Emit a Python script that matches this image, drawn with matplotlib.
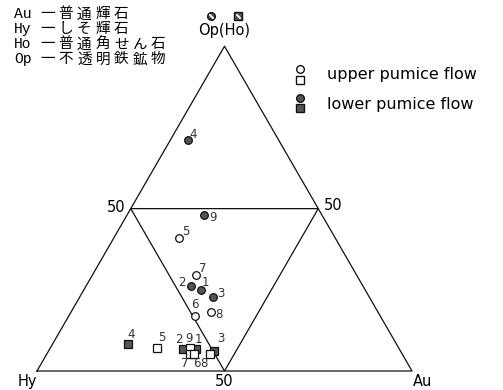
import numpy as np
import matplotlib
matplotlib.use("Agg")
import matplotlib.pyplot as plt

# mineral names (abbreviation, Japanese name)
minerals = ["Au", "Hy", "Ho", "Op"]
mineral_names = ["一普通輝石", "一しそ輝石", "一普通角せん石", "一不透明鉄鉱物"]

# ternary compositions in percent: Op(Ho) and Au (Hy = 100 - Op - Au)
lower_circle_ids = ["4", "9", "2", "1", "3"]
lower_circle_op = [71.1, 48.0, 26.3, 24.9, 22.8]
lower_circle_au = [4.6, 20.6, 27.9, 31.2, 35.6]

upper_circle_ids = ["5", "7", "6", "8"]
upper_circle_op = [41.0, 29.6, 16.8, 18.3]
upper_circle_au = [17.4, 27.6, 33.6, 37.3]

lower_square_ids = ["4", "2", "1", "3"]
lower_square_op = [8.2, 6.7, 6.7, 6.2]
lower_square_au = [20.2, 35.7, 39.0, 44.1]

upper_square_ids = ["5", "9", "7", "6", "8"]
upper_square_op = [7.2, 7.0, 5.2, 5.2, 5.2]
upper_square_au = [28.3, 37.3, 38.2, 39.3, 43.5]

# label offsets (pixels)
lower_circle_off = [(6, 6), (9, -2), (-9, 3), (5, 8), (8, 3)]
upper_circle_off = [(7, 6), (7, 6), (0, 12), (8, -3)]
lower_square_off = [(3, 10), (-5, 10), (3, 10), (7, 12)]
upper_square_off = [(5, 10), (-1, 10), (-5, -9), (3, -9), (-6, -9)]

H = np.sqrt(3) / 2


def to_xy(op, au):
    op = np.asarray(op) / 100.0
    au = np.asarray(au) / 100.0
    return au + op / 2, op * H


fig = plt.figure(figsize=(5.03, 3.90), dpi=100)
ax = fig.add_axes([0, 0, 1, 1])
ax.set_xlim(-37 / 375, 466 / 375)
ax.set_ylim(-19 / 375, 371 / 375)
ax.axis("off")

lc = "#111111"
lw = 0.9
# outer triangle
ax.plot([0, 1, 0.5, 0], [0, 0, H, 0], color=lc, lw=lw)
# inner (50%) triangle
ax.plot([0.25, 0.75, 0.5, 0.25], [H / 2, H / 2, 0, H / 2], color=lc, lw=lw)

# vertex and 50 labels
fs = 10.5
ax.text(0.5, H + 0.042, "Op(Ho)", ha="center", va="center", fontsize=fs)
ax.text(-0.025, -0.027, "Hy", ha="center", va="center", fontsize=fs)
ax.text(1.028, -0.027, "Au", ha="center", va="center", fontsize=fs)
ax.text(0.5, -0.027, "50", ha="center", va="center", fontsize=fs)
ax.text(0.235, H / 2 + 0.003, "50", ha="right", va="center", fontsize=fs)
ax.text(0.765, H / 2 + 0.008, "50", ha="left", va="center", fontsize=fs)

fill = "#555555"
ms = 5.5


def draw(op, au, ids, offs, marker, face):
    x, y = to_xy(op, au)
    ax.plot(x, y, linestyle="none", marker=marker, markersize=ms,
            markerfacecolor=face, markeredgecolor="#111111", markeredgewidth=0.9)
    for xi, yi, t, o in zip(x, y, ids, offs):
        ax.annotate(t, (xi, yi), xytext=o, textcoords="offset pixels",
                    ha="center", va="center", fontsize=8.5, color="#333333")


draw(lower_circle_op, lower_circle_au, lower_circle_ids, lower_circle_off, "o", fill)
draw(upper_circle_op, upper_circle_au, upper_circle_ids, upper_circle_off, "o", "white")
draw(lower_square_op, lower_square_au, lower_square_ids, lower_square_off, "s", fill)
draw(upper_square_op, upper_square_au, upper_square_ids, upper_square_off, "s", "white")

# symbols above the Op(Ho) vertex
top_y = H + 0.08
ax.plot([0.465], [top_y], marker="o", markersize=ms, color=fill, mec="#111111")
ax.plot([0.535], [top_y], marker="s", markersize=ms, color=fill, mec="#111111")
ax.plot([0.465, 0.535], [top_y, top_y], ls="none", marker=(2, 2, 45),
        markersize=4, mec="white", mew=0.9)

# mineral key (top left), kanji spaced out like the original print
pitch = 18.5 / 375
for i, (ab, nm) in enumerate(zip(minerals, mineral_names)):
    yy = 0.951 - i * 0.04
    ax.text(-0.062, yy, ab, ha="left", va="center", fontsize=10.5,
            family="Liberation Mono")
    for k, ch in enumerate(nm):
        ax.text(0.008 + k * pitch, yy, ch, ha="left", va="center", fontsize=10.5,
                family=["Noto Sans CJK JP", "DejaVu Sans"])

# pumice flow legend (top right)
ax.plot([0.702], [0.805], marker="o", markersize=ms, mfc="white", mec="#111111", ls="none")
ax.plot([0.702], [0.776], marker="s", markersize=ms, mfc="white", mec="#111111", ls="none")
ax.text(0.773, 0.792, "upper pumice flow", ha="left", va="center", fontsize=11.5)
ax.plot([0.702], [0.728], marker="o", markersize=ms, mfc=fill, mec="#111111", ls="none")
ax.plot([0.702], [0.701], marker="s", markersize=ms, mfc=fill, mec="#111111", ls="none")
ax.text(0.773, 0.712, "lower pumice flow", ha="left", va="center", fontsize=11.5)

fig.savefig("out.png", dpi=100)
